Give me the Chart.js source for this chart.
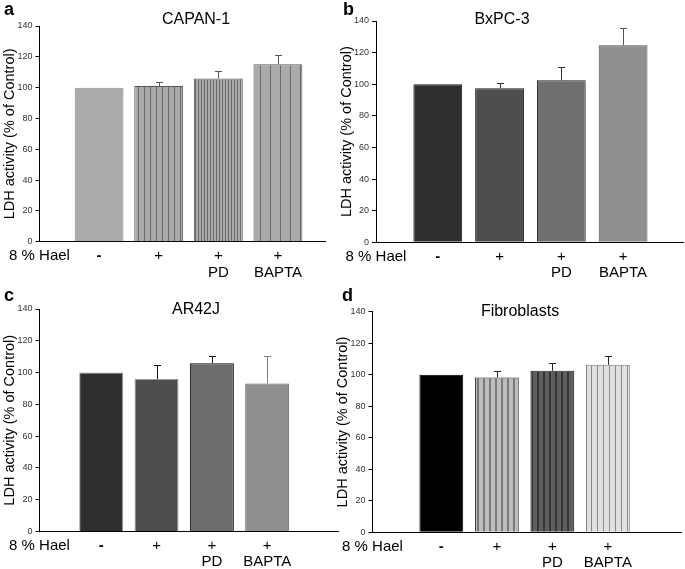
<!DOCTYPE html>
<html>
<head>
<meta charset="utf-8">
<script src="https://cdn.jsdelivr.net/npm/chart.js@4.4.1/dist/chart.umd.min.js"></script>
<style>
    body { margin: 0; background: #fff; }
    #figure { position: relative; width: 685px; height: 569px; font-family: 'Liberation Sans', Arial, sans-serif; }
    #figure canvas { position: absolute; }
    .letter { position: absolute; font-size: 18px; font-weight: bold; line-height: 1; }
    .ptitle { position: absolute; font-size: 16px; line-height: 1; transform: translateX(-50%); white-space: nowrap; }
</style>
</head>
<body>
<div id="figure">
    <canvas id="panelA" width="342" height="285" style="left:0;top:0"></canvas>
    <canvas id="panelB" width="348" height="285" style="left:337px;top:0"></canvas>
    <canvas id="panelC" width="342" height="284" style="left:0;top:285px"></canvas>
    <canvas id="panelD" width="352" height="284" style="left:333px;top:285px"></canvas>

    <div class="letter" style="left:4px;top:0">a</div>
    <div class="letter" style="left:343px;top:0">b</div>
    <div class="letter" style="left:4px;top:286px">c</div>
    <div class="letter" style="left:342px;top:286px">d</div>

    <div class="ptitle" style="left:196px;top:11px">CAPAN-1</div>
    <div class="ptitle" style="left:502px;top:11px">BxPC-3</div>
    <div class="ptitle" style="left:196px;top:301px">AR42J</div>
    <div class="ptitle" style="left:520px;top:303px">Fibroblasts</div>
</div>

<script>
// Shared axis text
const haelLabel = '8 % Hael';
const treatmentLabels = ['-', '+', ['+', 'PD'], ['+', 'BAPTA']];
const barPositions = [1, 2, 3, 4];
const yTickValues = [0, 20, 40, 60, 80, 100, 120, 140];
const yTitle = 'LDH activity (% of Control)';

// LDH activity (% of control) and upper error per cell line
const capanValues = [100, 101, 106, 115.1];
const capanErrors = [0, 2.9, 5.0, 6.3];
const bxpcValues = [100, 97.5, 102.5, 124.7];
const bxpcErrors = [0, 3.1, 8.7, 10.8];
const ar42jValues = [100, 95.9, 105.9, 93.1];
const ar42jErrors = [0, 8.7, 4.5, 17.1];
const fibroValues = [100, 98.3, 102.5, 106.3];
const fibroErrors = [0, 4.0, 5.2, 5.6];

Chart.defaults.font.family = "'Liberation Sans', Arial, sans-serif";

// vertical hatch fill
function stripes(base, line, gap, lineW = 1) {
    const c = document.createElement('canvas');
    c.width = gap;
    c.height = 4;
    const g = c.getContext('2d');
    g.fillStyle = base;
    g.fillRect(0, 0, gap, 4);
    g.fillStyle = line;
    g.fillRect(0, 0, lineW, 4);
    return g.createPattern(c, 'repeat');
}

// Upper whisker with a cap
const errorBars = {
    id: 'errorBars',
    afterDatasetsDraw(chart, args, opts) {
        const ds = chart.data.datasets[0];
        const meta = chart.getDatasetMeta(0);
        const y = chart.scales.y;
        const ctx = chart.ctx;
        ctx.save();
        ctx.lineWidth = 1;
        meta.data.forEach((bar, i) => {
            const err = ds.errors[i];
            if (!err) return;
            const x = Math.round(bar.x) + 0.5;
            const top = Math.round(y.getPixelForValue(ds.data[i].y + err)) + 0.5;
            ctx.strokeStyle = opts.colors[i];
            ctx.beginPath();
            ctx.moveTo(x, bar.y);
            ctx.lineTo(x, top);
            ctx.moveTo(x - 3.5, top);
            ctx.lineTo(x + 3.5, top);
            ctx.stroke();
        });
        ctx.restore();
    }
};

const panels = [
    {
        id: 'panelA', w: 342, h: 285,
        area: { left: 39.5, top: 26, right: 325, bottom: 241.7 },
        xMin: 0, xMax: 4.79, barPct: 0.82,
        values: capanValues, errors: capanErrors,
        fills: ['#aaaaaa', stripes('#aaaaaa', '#6a6a6a', 6), stripes('#aaaaaa', '#6a6a6a', 3), stripes('#aaaaaa', '#6a6a6a', 10)],
        borders: ['#8c8c8c', '#555555', '#555555', '#555555'],
        errColors: ['#555', '#555', '#555', '#555']
    },
    {
        id: 'panelB', w: 348, h: 285,
        area: { left: 39, top: 21, right: 346, bottom: 242.3 },
        xMin: 0, xMax: 4.97, barPct: 0.79,
        values: bxpcValues, errors: bxpcErrors,
        fills: ['#2f2f2f', '#4e4e4e', '#6f6f6f', '#8f8f8f'],
        borders: ['#1a1a1a', '#1a1a1a', '#1a1a1a', '#4a4a4a'],
        errColors: ['#333', '#333', '#333', '#555']
    },
    {
        id: 'panelC', w: 342, h: 284,
        area: { left: 39.5, top: 24, right: 338, bottom: 246.5 },
        xMin: -0.115, xMax: 5.28, barPct: 0.795,
        values: ar42jValues, errors: ar42jErrors,
        fills: ['#2f2f2f', '#4d4d4d', '#6c6c6c', '#8e8e8e'],
        borders: ['#999999', '#999999', '#000000', '#666666'],
        errColors: ['#000', '#111', '#111', '#808080']
    },
    {
        id: 'panelD', w: 352, h: 284,
        area: { left: 39.5, top: 26.7, right: 348.7, bottom: 247.3 },
        xMin: -0.24, xMax: 5.33, barPct: 0.79,
        values: fibroValues, errors: fibroErrors,
        fills: ['#000000', stripes('#bdbdbd', '#7a7a7a', 6, 2), stripes('#5e5e5e', '#363636', 6, 2), stripes('#e0e0e0', '#8a8a8a', 6, 1)],
        borders: ['#000000', '#222222', '#222222', '#777777'],
        errColors: ['#222', '#222', '#222', '#222']
    }
];

function buildPanel(p) {
    return new Chart(document.getElementById(p.id), {
        type: 'bar',
        data: {
            datasets: [{
                data: barPositions.map((x, i) => ({ x, y: p.values[i] })),
                errors: p.errors,
                backgroundColor: p.fills,
                borderColor: p.borders,
                borderWidth: 1,
                categoryPercentage: 1,
                barPercentage: p.barPct
            }]
        },
        options: {
            responsive: false,
            animation: false,
            devicePixelRatio: 1,
            layout: { padding: { left: 0, top: p.area.top, right: p.w - p.area.right, bottom: 0 } },
            plugins: {
                legend: { display: false },
                tooltip: { enabled: false },
                errorBars: { colors: p.errColors }
            },
            scales: {
                x: {
                    type: 'linear',
                    offset: false,
                    min: p.xMin,
                    max: p.xMax,
                    afterBuildTicks: s => { s.ticks = [p.xMin, ...barPositions].map(v => ({ value: v })); },
                    afterFit: s => { s.height = p.h - p.area.bottom; },
                    grid: { display: true, offset: false, drawOnChartArea: false, drawTicks: false },
                    border: { color: '#000', width: 1 },
                    ticks: {
                        autoSkip: false,
                        maxRotation: 0,
                        minRotation: 0,
                        padding: 6,
                        color: '#000',
                        // the "-" sign is printed heavier in the original
                        font: c => ({ size: 15, lineHeight: 1.1, weight: c.tick && c.tick.label === '-' ? 'bold' : 'normal' }),
                        callback: v => v === p.xMin ? haelLabel : treatmentLabels[barPositions.indexOf(v)]
                    }
                },
                y: {
                    min: 0,
                    max: 140,
                    afterBuildTicks: s => { s.ticks = yTickValues.map(v => ({ value: v })); },
                    afterFit: s => { s.width = p.area.left; },
                    grid: { drawOnChartArea: false, tickLength: 4, color: '#000' },
                    border: { color: '#000', width: 1 },
                    ticks: { padding: 3, color: '#333', font: { size: 9 } },
                    title: {
                        display: true,
                        text: yTitle,
                        color: '#000',
                        font: { size: 14.5 },
                        padding: { top: 1, bottom: 0 }
                    }
                }
            }
        },
        plugins: [errorBars]
    });
}

panels.forEach(buildPanel);
</script>
</body>
</html>
